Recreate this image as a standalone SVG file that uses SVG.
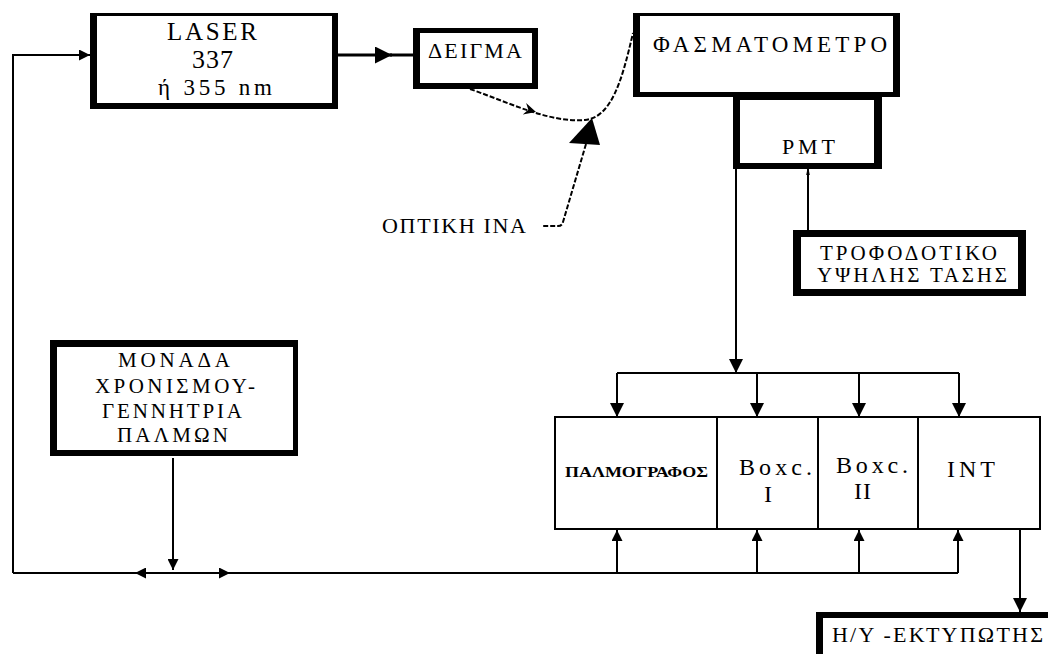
<svg xmlns="http://www.w3.org/2000/svg" width="1048" height="654" viewBox="0 0 1048 654">
<style>
.t{font-family:"Liberation Serif","DejaVu Serif",serif;fill:#000}
.fr{fill:#000}
.in{fill:#fff}
.ln{fill:none;stroke:#000;stroke-width:2}
.dash{fill:none;stroke:#000;stroke-width:2;stroke-dasharray:5 2}
.cell{fill:#fff;stroke:#000;stroke-width:2}
</style>
<defs>
<marker id="ah" viewBox="0 0 10 10" refX="10" refY="5" markerUnits="userSpaceOnUse" markerWidth="14" markerHeight="14" orient="auto"><path d="M0,0 L10,5 L0,10 Z"/></marker>
<marker id="ahs" viewBox="0 0 10 10" refX="10" refY="5" markerUnits="userSpaceOnUse" markerWidth="12" markerHeight="11" orient="auto"><path d="M0,0 L10,5 L0,10 Z"/></marker>
<marker id="ahb" viewBox="0 0 10 10" refX="10" refY="5" markerUnits="userSpaceOnUse" markerWidth="20" markerHeight="17" orient="auto"><path d="M0,0 L10,5 L0,10 Z"/></marker>
<marker id="ahf" viewBox="0 0 10 10" refX="10" refY="5" markerUnits="userSpaceOnUse" markerWidth="6" markerHeight="15" orient="auto"><path d="M0,2 L10,4 L10,6 L0,8 Z"/></marker>
</defs>

<g id="connectors">
<path class="ln" d="M13,573 V55 H90" marker-end="url(#ahs)"/>
<path d="M338,55 H392" stroke="#000" stroke-width="3" fill="none" marker-end="url(#ahb)"/>
<path d="M390,55 H413" stroke="#000" stroke-width="3" fill="none"/>
<path class="dash" d="M470,89 C510,103 550,123 585,120 C612,117 622,80 633,33"/>
<polygon points="0,0 -12,-6 -8,0 -12,6" transform="translate(536,112) rotate(16)"/>
<polygon points="592,118 569,143 600,145"/>
<path class="dash" d="M586,144 L563,222 Q562,226 558,226 H543"/>
<path class="ln" d="M736,169 V373" marker-end="url(#ah)"/>
<path class="ln" d="M617,373 H959"/>
<path class="ln" d="M617,373 V417" marker-end="url(#ah)"/>
<path class="ln" d="M757,373 V417" marker-end="url(#ah)"/>
<path class="ln" d="M859,373 V417" marker-end="url(#ah)"/>
<path class="ln" d="M959,373 V417" marker-end="url(#ah)"/>
<path class="ln" d="M808,230 V169" marker-end="url(#ahf)"/>
<path class="ln" d="M13,573 H958"/>
<path class="ln" d="M617,573 V530" marker-end="url(#ahs)"/>
<path class="ln" d="M757,573 V530" marker-end="url(#ahs)"/>
<path class="ln" d="M859,573 V530" marker-end="url(#ahs)"/>
<path class="ln" d="M958,573 V530" marker-end="url(#ahs)"/>
<path class="ln" d="M1020,529 V612" marker-end="url(#ah)"/>
<path class="ln" d="M173,458 V570" marker-end="url(#ahs)"/>
<path class="ln" d="M160,573 H135" marker-end="url(#ahs)"/>
<path class="ln" d="M205,573 H230" marker-end="url(#ahs)"/>
</g>

<g id="laser">
<rect class="fr" x="90" y="13" width="248" height="96"/>
<rect class="in" x="97" y="16" width="235" height="87"/>
<text class="t" x="167" y="40" font-size="25" textLength="90" lengthAdjust="spacing">LASER</text>
<text class="t" x="192" y="68" font-size="26" textLength="41" lengthAdjust="spacing">337</text>
<text class="t" x="158" y="95" font-size="23" textLength="114" lengthAdjust="spacing">ή  355 nm</text>
</g>

<g id="deigma">
<rect class="fr" x="413" y="28" width="125" height="61"/>
<rect class="in" x="420" y="33" width="112" height="50"/>
<text class="t" x="428" y="58" font-size="22" textLength="94" lengthAdjust="spacing">ΔΕΙΓΜΑ</text>
</g>

<g id="fasmatometro">
<rect class="fr" x="633" y="13" width="267" height="84"/>
<rect class="in" x="640" y="16" width="253" height="76"/>
<text class="t" x="653" y="52" font-size="23" textLength="234" lengthAdjust="spacing">ΦΑΣΜΑΤΟΜΕΤΡΟ</text>
</g>

<g id="pmt">
<rect class="fr" x="733" y="92" width="149" height="77"/>
<rect class="in" x="740" y="100" width="134" height="63"/>
<text class="t" x="782" y="154" font-size="22" textLength="53" lengthAdjust="spacing">PMT</text>
</g>

<g id="trofodotiko">
<rect class="fr" x="793" y="230" width="233" height="66"/>
<rect class="in" x="801" y="237" width="217" height="52"/>
<text class="t" x="820" y="260" font-size="21" textLength="177" lengthAdjust="spacing">ΤΡΟΦΟΔΟΤΙΚΟ</text>
<text class="t" x="817" y="282" font-size="21" textLength="190" lengthAdjust="spacing">ΥΨΗΛΗΣ ΤΑΣΗΣ</text>
</g>

<text class="t" x="382" y="233" font-size="22" textLength="144" lengthAdjust="spacing">ΟΠΤΙΚΗ ΙΝΑ</text>

<g id="monada">
<rect class="fr" x="50" y="340" width="248" height="116"/>
<rect class="in" x="57" y="347" width="236" height="103"/>
<text class="t" x="118" y="367" font-size="21" textLength="112" lengthAdjust="spacing">ΜΟΝΑΔΑ</text>
<text class="t" x="95" y="393" font-size="21" textLength="160" lengthAdjust="spacing">ΧΡΟΝΙΣΜΟΥ-</text>
<text class="t" x="102" y="418" font-size="21" textLength="140" lengthAdjust="spacing">ΓΕΝΝΗΤΡΙΑ</text>
<text class="t" x="117" y="442" font-size="21" textLength="111" lengthAdjust="spacing">ΠΑΛΜΩΝ</text>
</g>

<g id="palmografos">
<rect class="cell" x="555" y="417" width="162" height="112"/>
<text class="t" x="565" y="477" font-size="14" font-weight="bold" textLength="143" lengthAdjust="spacingAndGlyphs">ΠΑΛΜΟΓΡΑΦΟΣ</text>
</g>
<g id="boxc1">
<rect class="cell" x="717" y="417" width="101" height="112"/>
<text class="t" x="739" y="475" font-size="24" textLength="73" lengthAdjust="spacing">Boxc.</text>
<text class="t" x="764" y="502" font-size="24">I</text>
</g>
<g id="boxc2">
<rect class="cell" x="818" y="417" width="100" height="112"/>
<text class="t" x="836" y="473" font-size="24" textLength="72" lengthAdjust="spacing">Boxc.</text>
<text class="t" x="854" y="499" font-size="24" textLength="17" lengthAdjust="spacing">II</text>
</g>
<g id="int">
<rect class="cell" x="918" y="417" width="122" height="112"/>
<text class="t" x="947" y="477" font-size="24" textLength="48" lengthAdjust="spacing">INT</text>
</g>

<g id="hy">
<rect class="fr" x="816" y="612" width="250" height="60"/>
<rect class="in" x="823" y="618" width="240" height="50"/>
<text class="t" x="832" y="642" font-size="22" textLength="211" lengthAdjust="spacing">Η/Υ -ΕΚΤΥΠΩΤΗΣ</text>
</g>
</svg>
